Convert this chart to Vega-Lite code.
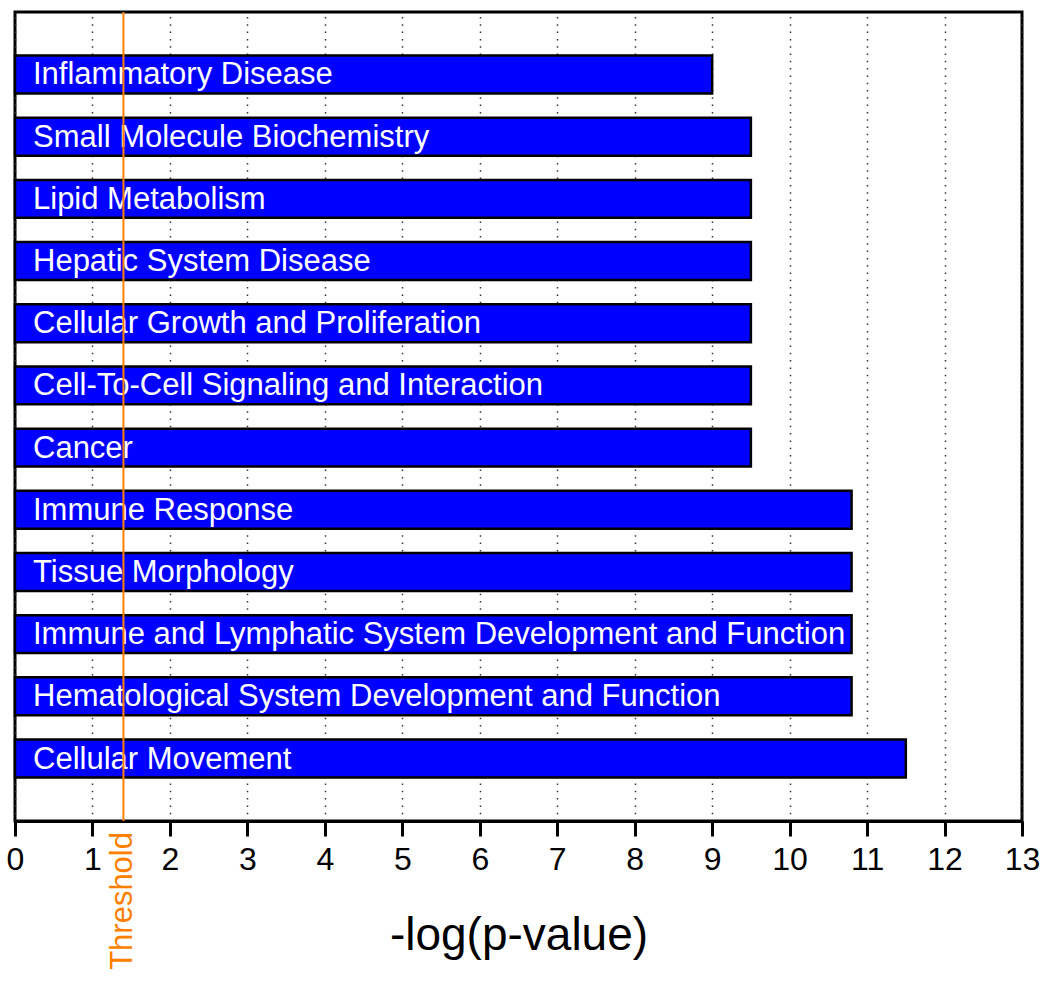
{
  "$schema": "https://vega.github.io/schema/vega-lite/v6.json",
  "width": 1007,
  "height": 809,
  "autosize": {"type": "none"},
  "padding": {"left": 15, "top": 12, "right": 28, "bottom": 163},
  "background": "white",
  "config": {
    "font": "Liberation Sans",
    "view": {"stroke": "black", "strokeWidth": 3},
    "axis": {"labelFont": "Liberation Sans", "titleFont": "Liberation Sans"}
  },
  "datasets": {
    "cats": [
      {"category": "Inflammatory Disease", "value": 9.0},
      {"category": "Small Molecule Biochemistry", "value": 9.5},
      {"category": "Lipid Metabolism", "value": 9.5},
      {"category": "Hepatic System Disease", "value": 9.5},
      {"category": "Cellular Growth and Proliferation", "value": 9.5},
      {"category": "Cell-To-Cell Signaling and Interaction", "value": 9.5},
      {"category": "Cancer", "value": 9.5},
      {"category": "Immune Response", "value": 10.8},
      {"category": "Tissue Morphology", "value": 10.8},
      {"category": "Immune and Lymphatic System Development and Function", "value": 10.8},
      {"category": "Hematological System Development and Function", "value": 10.8},
      {"category": "Cellular Movement", "value": 11.5}
    ],
    "threshold": [{"label": "Threshold", "value": 1.4}]
  },
  "layer": [
    {
      "data": {"name": "cats"},
      "mark": {"type": "bar", "fill": "#0000ff", "stroke": "black", "strokeWidth": 2.5},
      "encoding": {
        "y": {"field": "category", "type": "nominal", "sort": null,
              "scale": {"paddingInner": 0.39, "paddingOuter": 0.7}, "axis": null},
        "x": {"field": "value", "type": "quantitative",
              "scale": {"domain": [0, 13], "nice": false, "zero": true},
              "axis": {
                "values": [0,1,2,3,4,5,6,7,8,9,10,11,12,13],
                "format": "d",
                "title": "-log(p-value)",
                "titleFontSize": 46, "titleFontWeight": "normal", "titleColor": "black",
                "titlePadding": 38,
                "labelFontSize": 32, "labelColor": "black", "labelPadding": 8,
                "labelFlush": false,
                "domainColor": "black", "domainWidth": 3,
                "tickColor": "black", "tickWidth": 3, "tickSize": 15,
                "grid": true, "gridColor": "#333333", "gridWidth": 1.5, "gridDash": [1.5, 5.8]
              }}
      }
    },
    {
      "data": {"name": "cats"},
      "mark": {"type": "text", "color": "white", "fontSize": 31, "align": "left", "baseline": "middle", "dx": 18, "dy": 1},
      "encoding": {
        "y": {"field": "category", "type": "nominal", "sort": null},
        "x": {"datum": 0, "type": "quantitative"},
        "text": {"field": "category"}
      }
    },
    {
      "data": {"name": "threshold"},
      "mark": {"type": "rule", "color": "#ff7f00", "strokeWidth": 2},
      "encoding": {"x": {"field": "value", "type": "quantitative"}}
    },
    {
      "data": {"name": "threshold"},
      "mark": {"type": "text", "color": "#ff7f00", "fontSize": 31, "angle": 270, "align": "right", "baseline": "middle", "y": "height", "dx": -11},
      "encoding": {
        "x": {"field": "value", "type": "quantitative"},
        "text": {"field": "label"}
      }
    }
  ]
}
